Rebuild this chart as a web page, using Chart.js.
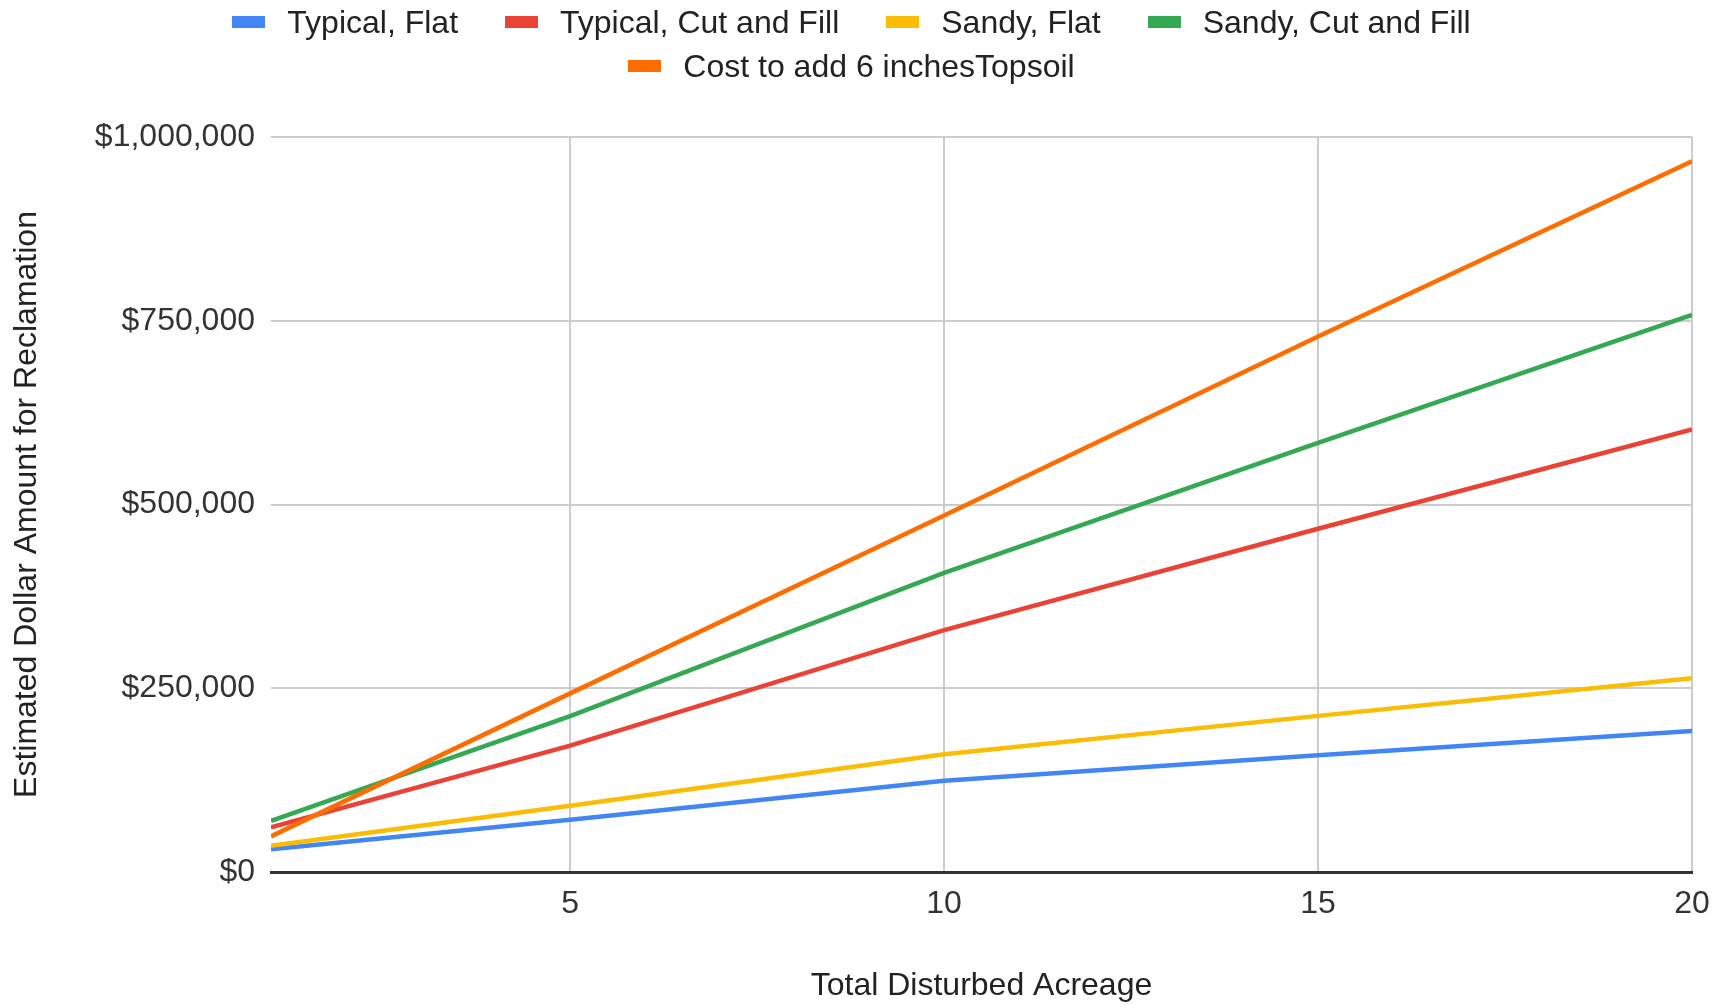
<!DOCTYPE html>
<html><head><meta charset="utf-8">
<script src="https://cdn.jsdelivr.net/npm/chart.js@4.4.1/dist/chart.umd.min.js"></script>
<style>
html,body{margin:0;padding:0;background:#fff;overflow:hidden}
#wrap{position:relative;width:1731px;height:1005px}
#c{position:absolute;left:0;top:0}
#legend{position:absolute;left:0;top:0;width:1703px;display:flex;flex-wrap:wrap;justify-content:center;column-gap:47px;font-family:'Liberation Sans',Arial,sans-serif;font-size:32px;color:#222;line-height:44px}
.item{display:flex;align-items:center;white-space:nowrap}
.box{width:33px;height:12px;margin-right:22px}
</style></head><body>
<div id="wrap"><canvas id="c" width="1731" height="1005"></canvas><div id="legend"></div></div>
<script>
// ---- data ----
const acres = [1, 5, 10, 15, 20];
const seriesNames = ["Typical, Flat", "Typical, Cut and Fill", "Sandy, Flat", "Sandy, Cut and Fill", "Cost to add 6 inchesTopsoil"];
const seriesColors = ["#4285F4", "#EA4335", "#FBBC04", "#34A853", "#FF6D01"];
const typicalFlat      = [31000, 71000, 124000, 159000, 192000];
const typicalCutFill   = [60700, 172000, 329000, 467000, 602000];
const sandyFlat        = [35700, 90000, 160300, 212400, 263600];
const sandyCutFill     = [69700, 212000, 407000, 583800, 758000];
const topsoilCost      = [48500, 243000, 485000, 728700, 967000];
const xTicks = [5, 10, 15, 20];
const yTicks = [0, 250000, 500000, 750000, 1000000];
const xTitle = "Total Disturbed Acreage";
const yTitle = "Estimated Dollar Amount for Reclamation";

const seriesValues = [typicalFlat, typicalCutFill, sandyFlat, sandyCutFill, topsoilCost];

// ---- legend (HTML) ----
const legend = document.getElementById('legend');
seriesNames.forEach((n, i) => {
  const it = document.createElement('div'); it.className = 'item';
  const b = document.createElement('span'); b.className = 'box'; b.style.background = seriesColors[i];
  const t = document.createElement('span'); t.textContent = n;
  it.appendChild(b); it.appendChild(t); legend.appendChild(it);
});

const FONT = "'Liberation Sans', Arial, sans-serif";
const datasets = seriesNames.map((n, i) => ({
  label: n,
  data: acres.map((a, j) => ({x: a, y: seriesValues[i][j]})),
  borderColor: seriesColors[i],
  backgroundColor: seriesColors[i],
  borderWidth: 4.5,
  pointRadius: 0,
  tension: 0,
  fill: false,
  order: seriesNames.length - i
}));

new Chart(document.getElementById('c'), {
  type: 'line',
  data: { datasets },
  options: {
    responsive: false,
    animation: false,
    devicePixelRatio: 1,
    layout: { padding: { top: 137, right: 39, bottom: 0, left: 0 } },
    plugins: { legend: { display: false }, tooltip: { enabled: false } },
    scales: {
      x: {
        type: 'linear', min: 1, max: 20,
        afterBuildTicks: s => { s.ticks = xTicks.map(v => ({value: v})); },
        afterFit: s => { s.height = 133; },
        grid: { color: '#cccccc', lineWidth: 2, drawTicks: false },
        border: { display: true, color: '#333333', width: 3 },
        ticks: { padding: 13, color: '#333', font: { family: FONT, size: 32 }, maxRotation: 0 },
        title: { display: true, text: xTitle, color: '#222', font: { family: FONT, size: 32 }, padding: { top: 0, bottom: 0 } }
      },
      y: {
        min: 0, max: 1000000,
        afterBuildTicks: s => { s.ticks = yTicks.map(v => ({value: v})); },
        afterFit: s => { s.width = 271; },
        grid: { color: '#cccccc', lineWidth: 2, drawTicks: false },
        border: { display: false },
        ticks: { padding: 16, color: '#333', font: { family: FONT, size: 32 },
          callback: v => '$' + Number(v).toLocaleString('en-US') },
        title: { display: true, text: yTitle, color: '#222', font: { family: FONT, size: 32 }, padding: { top: 8, bottom: 0 } }
      }
    }
  }
});
</script>
</body></html>
